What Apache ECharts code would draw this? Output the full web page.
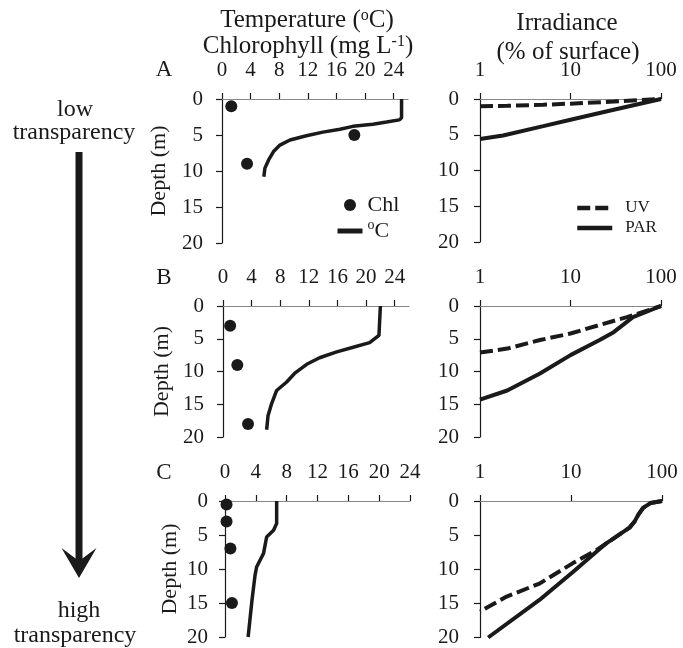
<!DOCTYPE html>
<html><head><meta charset="utf-8">
<script src="https://cdn.jsdelivr.net/npm/echarts@6/dist/echarts.min.js"></script>
<style>html,body{margin:0;padding:0;background:#fff}#c{width:683px;height:648px}</style>
</head><body><div id="c"></div>
<script>
// ---- tick labels ----
const depthTicks = [0, 5, 10, 15, 20];
const tempTicks = [0, 4, 8, 12, 16, 20, 24];
const irrTicks = [1, 10, 100];

// ---- Panel A (low transparency) ----
const chlA_conc  = [1.3, 18.5, 3.5];
const chlA_depth = [1, 5, 9];
const tempA_val   = [25.1, 25.1, 24.8, 23.0, 21.1, 18.3, 16.5, 14.1, 11.8, 9.5, 8.1, 7.2, 6.5, 6.0, 5.85];
const tempA_depth = [0, 2.6, 2.9, 3.2, 3.5, 3.8, 4.2, 4.6, 5.1, 5.7, 6.4, 7.3, 8.5, 9.6, 10.8];
const uvA_irr   = [1, 2, 5, 10, 30, 100];
const uvA_depth = [1.0, 0.95, 0.8, 0.65, 0.35, 0];
const parA_irr   = [1, 1.8, 5, 10, 30, 100];
const parA_depth = [5.6, 5.1, 3.8, 2.9, 1.5, 0];

// ---- Panel B ----
const chlB_conc  = [1.0, 2.0, 3.5];
const chlB_depth = [3, 9, 18];
const tempB_val   = [22.0, 21.8, 20.5, 18.2, 15.9, 13.5, 11.7, 10.0, 8.9, 7.5, 6.8, 6.3, 6.1];
const tempB_depth = [0, 4.5, 5.6, 6.3, 7.0, 7.9, 8.9, 10.3, 11.6, 12.9, 14.9, 16.7, 18.9];
const uvB_irr   = [1, 2, 4.6, 10, 21, 42, 100];
const uvB_depth = [7.1, 6.5, 5.2, 4.2, 2.9, 1.7, 0];
const parB_irr   = [1, 2, 4.6, 10, 21, 30, 49, 100];
const parB_depth = [14.3, 12.9, 10.3, 7.5, 5.2, 4.0, 1.7, 0];

// ---- Panel C (high transparency) ----
const chlC_conc  = [0.2, 0.2, 0.7, 0.9];
const chlC_depth = [0.5, 3, 7, 15];
const tempC_val   = [6.7, 6.7, 6.3, 5.4, 5.0, 4.1, 3.9, 3.5, 3.0];
const tempC_depth = [0, 3.3, 4.3, 5.3, 7.7, 9.7, 10.9, 14.6, 20];
const uvC_irr   = [100, 75, 62, 55, 50, 44, 24, 19, 10.5, 4.5, 1.96, 1];
const uvC_depth = [0, 0.3, 1.0, 2.0, 3.0, 3.9, 6.3, 7.2, 9.1, 12.1, 14.0, 16.2];
const parC_irr   = [100, 75, 62, 55, 50, 44, 24.4, 10.5, 4.5, 1.23];
const parC_depth = [0, 0.3, 1.0, 2.0, 3.0, 3.9, 6.2, 10.4, 14.5, 20];

const pairs = (xs, ys) => xs.map((x, i) => [x, ys[i]]);

const FONT = 'Liberation Serif';
const INK = '#1a1a1a';

const grids = [
  {left: 222, top: 99,  width: 186, height: 144},
  {left: 480, top: 99,  width: 181, height: 143},
  {left: 223, top: 306, width: 186, height: 131},
  {left: 480, top: 306, width: 181, height: 131},
  {left: 225, top: 501, width: 185, height: 136},
  {left: 480, top: 501, width: 182, height: 137}
];

function xTemp(i, max) {
  return {
    gridIndex: i, type: 'value', position: 'top', min: 0, max: max,
    axisLine: {show: true, onZero: false, lineStyle: {color: '#888', width: 1.2}},
    axisTick: {show: true, inside: false, length: 6, customValues: tempTicks, lineStyle: {color: INK, width: 1.2}},
    axisLabel: {customValues: tempTicks, margin: 18, fontSize: 21, fontFamily: FONT, color: INK},
    splitLine: {show: false}
  };
}
function xIrr(i) {
  return {
    gridIndex: i, type: 'log', logBase: 10, position: 'top', min: 1, max: 100,
    axisLine: {show: true, onZero: false, lineStyle: {color: '#888', width: 1.2}},
    axisTick: {show: true, length: 6, customValues: irrTicks, lineStyle: {color: INK, width: 1.2}},
    axisLabel: {customValues: irrTicks, margin: 18, fontSize: 21, fontFamily: FONT, color: INK},
    splitLine: {show: false}, minorTick: {show: false}
  };
}
function yDepth(i, named, nameGap, margin) {
  return {
    gridIndex: i, type: 'value', inverse: true, min: 0, max: 20, interval: 5,
    name: named ? 'Depth (m)' : '', nameLocation: 'middle', nameGap: nameGap,
    nameTextStyle: {fontSize: 22, fontFamily: FONT, color: INK},
    axisLine: {show: true, onZero: false, lineStyle: {color: INK, width: 1.2}},
    axisTick: {show: true, length: 6, customValues: depthTicks, lineStyle: {color: INK, width: 1.2}},
    axisLabel: {customValues: depthTicks, margin: margin, fontSize: 21, fontFamily: FONT, color: INK},
    splitLine: {show: false}
  };
}

const xAxes = [xTemp(0, 26), xIrr(1), xTemp(2, 26), xIrr(3), xTemp(4, 24), xIrr(5)];
const yAxes = [yDepth(0, true, 52, 19), yDepth(1, false, 0, 21), yDepth(2, true, 50, 19),
               yDepth(3, false, 0, 21), yDepth(4, true, 44, 17), yDepth(5, false, 0, 21)];

function chl(i, xs, ys) {
  return {name: 'Chl', type: 'scatter', xAxisIndex: i, yAxisIndex: i, data: pairs(xs, ys),
          symbol: 'circle', symbolSize: 12, itemStyle: {color: INK, opacity: 1}, z: 5, silent: true};
}
function temp(i, xs, ys) {
  return {name: 'oC', type: 'line', xAxisIndex: i, yAxisIndex: i, data: pairs(xs, ys),
          symbol: 'none', lineStyle: {color: INK, width: 3.5}, itemStyle: {color: INK}, silent: true};
}
function uv(i, xs, ys) {
  return {name: 'UV', type: 'line', xAxisIndex: i, yAxisIndex: i, data: pairs(xs, ys),
          symbol: 'none', lineStyle: {color: INK, width: 4, type: [13, 5]}, itemStyle: {color: INK}, z: 3, silent: true};
}
function par(i, xs, ys) {
  return {name: 'PAR', type: 'line', xAxisIndex: i, yAxisIndex: i, data: pairs(xs, ys),
          symbol: 'none', lineStyle: {color: INK, width: 4}, itemStyle: {color: INK}, z: 2, silent: true};
}

const series = [
  chl(0, chlA_conc, chlA_depth), temp(0, tempA_val, tempA_depth),
  uv(1, uvA_irr, uvA_depth), par(1, parA_irr, parA_depth),
  chl(2, chlB_conc, chlB_depth), temp(2, tempB_val, tempB_depth),
  uv(3, uvB_irr, uvB_depth), par(3, parB_irr, parB_depth),
  chl(4, chlC_conc, chlC_depth), temp(4, tempC_val, tempC_depth),
  uv(5, uvC_irr, uvC_depth), par(5, parC_irr, parC_depth)
];

const supRich = (size) => ({sup: {fontSize: size, fontFamily: FONT, fill: INK, color: INK, verticalAlign: 'top'}});

function txt(x, y, text, size, extra) {
  return Object.assign({type: 'text', x: x, y: y, silent: true,
    style: {text: text, fontSize: size, fontFamily: FONT, fill: INK, align: 'center', verticalAlign: 'middle',
            rich: supRich(Math.round(size * 0.62))}}, extra || {});
}

const hidden = {opacity: 0, color: 'rgba(0,0,0,0)', borderWidth: 0};

const option = {
  animation: false,
  backgroundColor: '#fff',
  grid: grids,
  xAxis: xAxes,
  yAxis: yAxes,
  series: series,
  legend: [
    {left: 330, top: 187, orient: 'vertical', itemWidth: 25, itemHeight: 12, itemGap: 0, selectedMode: false,
     data: [{name: 'Chl', icon: 'circle', itemStyle: {color: INK, opacity: 1}}, {name: 'oC', itemStyle: hidden}],
     lineStyle: {width: 5, color: INK},
     formatter: n => n === 'oC' ? '{sup|o}C' : n,
     textStyle: {fontSize: 22, lineHeight: 26, fontFamily: FONT, color: INK,
                 rich: {sup: {fontSize: 14, fontFamily: FONT, color: INK, verticalAlign: 'top', lineHeight: 18}}}},
    {left: 570, top: 193, orient: 'vertical', itemWidth: 35, itemHeight: 10, itemGap: 0, selectedMode: false,
     data: [{name: 'UV', itemStyle: hidden}, {name: 'PAR', itemStyle: hidden}],
     lineStyle: {width: 4.5, color: INK},
     textStyle: {fontSize: 17, lineHeight: 20, fontFamily: FONT, color: INK, padding: [0, 0, 0, 8]}}
  ],
  graphic: [
    txt(307, 20, 'Temperature ({sup|o}C)', 25),
    txt(308, 46, 'Chlorophyll (mg L{sup|-1})', 25),
    txt(567, 23, 'Irradiance', 25),
    txt(568, 52, '(% of surface)', 25),
    txt(164, 70, 'A', 23),
    txt(164, 278, 'B', 23),
    txt(164, 473, 'C', 23),
    txt(75, 110, 'low', 24),
    txt(74, 133, 'transparency', 24),
    txt(79, 611, 'high', 24),
    txt(75, 636, 'transparency', 24),
    {type: 'rect', silent: true, shape: {x: 75.5, y: 152, width: 7, height: 410}, style: {fill: INK}},
    {type: 'polygon', silent: true, shape: {points: [[79, 578], [61.5, 548], [79, 561], [96.5, 548]]}, style: {fill: INK}}
  ]
};

const chart = echarts.init(document.getElementById('c'), null, {renderer: 'canvas'});
chart.setOption(option);
</script>
</body></html>
